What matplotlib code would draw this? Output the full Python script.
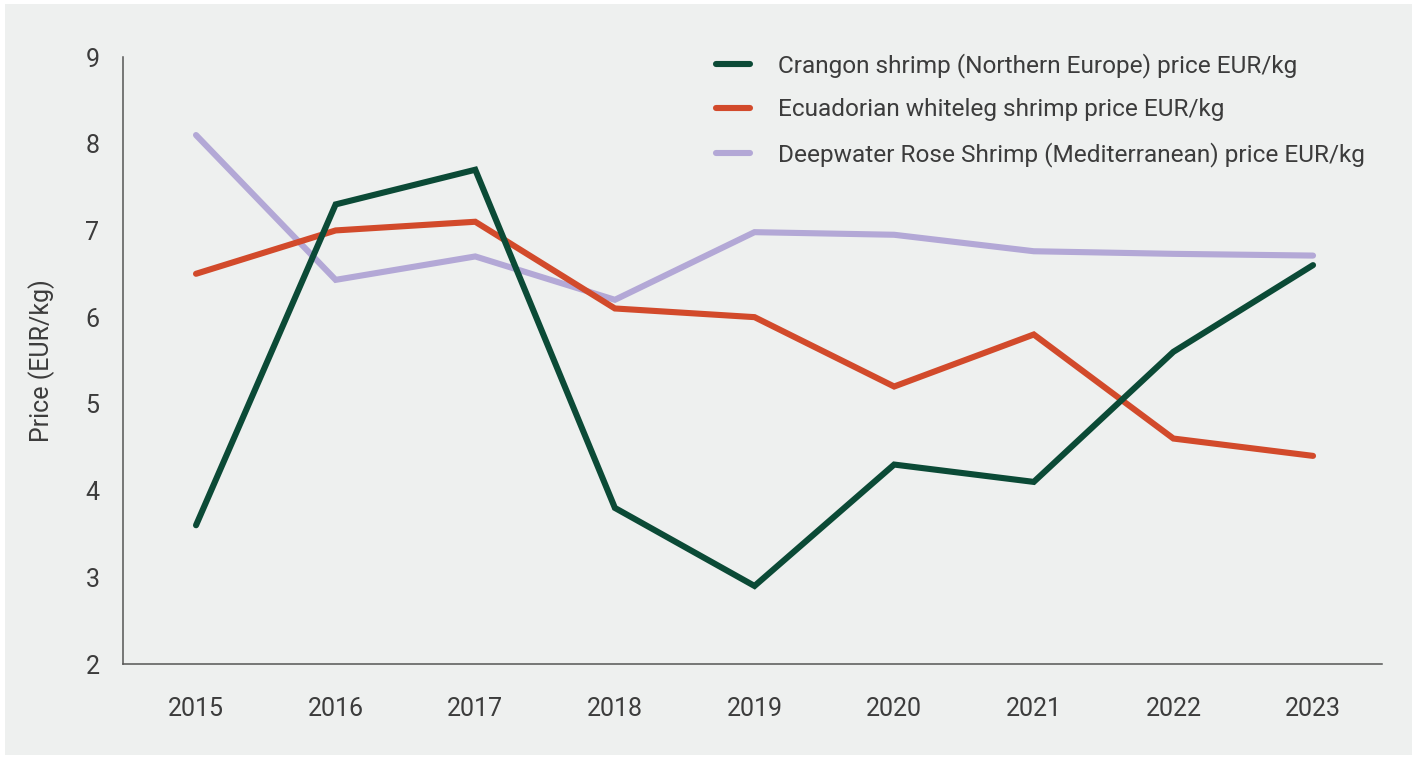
import matplotlib
matplotlib.use('Agg')
import matplotlib.pyplot as plt
from matplotlib.patches import Rectangle

plt.rcParams['font.family'] = ['Roboto', 'DejaVu Sans']

years = [2015, 2016, 2017, 2018, 2019, 2020, 2021, 2022, 2023]
crangon = [3.6, 7.3, 7.7, 3.8, 2.9, 4.3, 4.1, 5.6, 6.6]
ecuador = [6.5, 7.0, 7.1, 6.1, 6.0, 5.2, 5.8, 4.6, 4.4]
deepwater = [8.1, 6.43, 6.7, 6.2, 6.98, 6.95, 6.76, 6.73, 6.71]

labels = ['Crangon shrimp (Northern Europe) price EUR/kg',
          'Ecuadorian whiteleg shrimp price EUR/kg',
          'Deepwater Rose Shrimp (Mediterranean) price EUR/kg']
colors = ['#0b4a36', '#d24a2b', '#b3a8d6']

W, H = 1416, 760
fig = plt.figure(figsize=(W / 100, H / 100), dpi=100, facecolor='white')
# grey panel with thin white margin
fig.patches.append(Rectangle((5 / W, 1 - 755 / H), (1412 - 5) / W, (755 - 4) / H,
                             transform=fig.transFigure, facecolor='#eef0ef',
                             edgecolor='none', zorder=-1))

ax = fig.add_axes([123 / W, 1 - 664 / H, (1382 - 123) / W, (664 - 57) / H])
ax.set_facecolor('none')

# draw order: lavender below, then red, then green on top
for vals, col, lab, z in [(crangon, colors[0], labels[0], 4),
                          (ecuador, colors[1], labels[1], 3),
                          (deepwater, colors[2], labels[2], 2)]:
    ax.plot(years, vals, color=col, lw=4.4, label=lab, zorder=z,
            solid_capstyle='round', solid_joinstyle='miter')

ax.set_xlim(2014.477, 2023.494)
ax.set_ylim(2, 9)
ax.set_xticks(years)
ax.set_yticks(range(2, 10))
ax.tick_params(length=0, labelsize=18, colors='#3c3c3c')
ax.tick_params(axis='y', pad=17)
ax.tick_params(axis='x', pad=24)
for s in ['top', 'right']:
    ax.spines[s].set_visible(False)
for s in ['left', 'bottom']:
    ax.spines[s].set_color('#555555')
    ax.spines[s].set_linewidth(1.1)

ax.set_ylabel('Price (EUR/kg)', fontsize=18, color='#3c3c3c', labelpad=22)

handles, labs = ax.get_legend_handles_labels()
leg = fig.legend(handles, labs,
                 loc='upper left', bbox_to_anchor=(716 / W, 1 - 53 / H),
                 frameon=False, fontsize=17.6, labelcolor='#3c3c3c',
                 handlelength=1.4, handletextpad=1.15, labelspacing=0.84,
                 borderpad=0, borderaxespad=0)

fig.savefig('out.png', dpi=100, facecolor=fig.get_facecolor())
